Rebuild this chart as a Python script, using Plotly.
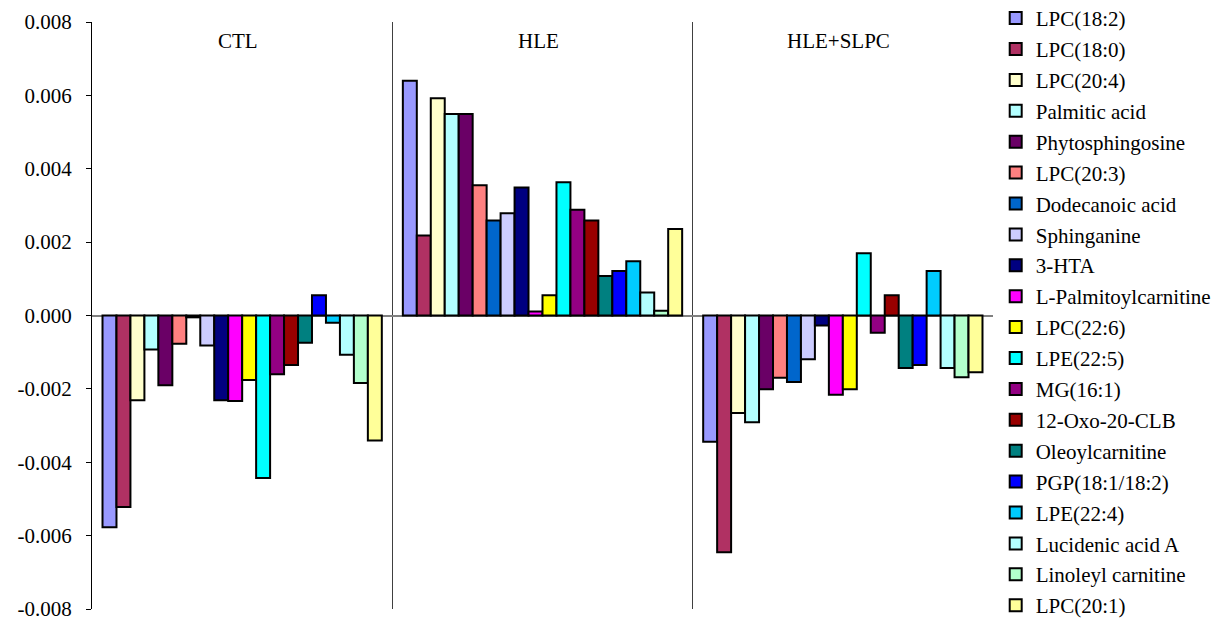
import plotly.graph_objects as go

# Groups shown along the x axis
groups = ["CTL", "HLE", "HLE+SLPC"]

# Metabolites (one bar series each)
metabolites = [
    "LPC(18:2)", "LPC(18:0)", "LPC(20:4)", "Palmitic acid", "Phytosphingosine",
    "LPC(20:3)", "Dodecanoic acid", "Sphinganine", "3-HTA", "L-Palmitoylcarnitine",
    "LPC(22:6)", "LPE(22:5)", "MG(16:1)", "12-Oxo-20-CLB", "Oleoylcarnitine",
    "PGP(18:1/18:2)", "LPE(22:4)", "Lucidenic acid A", "Linoleyl carnitine", "LPC(20:1)",
]

# Values per group, in metabolite order
ctl = [-0.00577, -0.00522, -0.00231, -0.00093, -0.00190, -0.00077, -0.00005, -0.00082,
       -0.00231, -0.00233, -0.00176, -0.00443, -0.00160, -0.00135, -0.00074, 0.00055,
       -0.00020, -0.00107, -0.00184, -0.00341]
hle = [0.00640, 0.00218, 0.00592, 0.00549, 0.00549, 0.00355, 0.00259, 0.00279,
       0.00349, 0.00011, 0.00055, 0.00363, 0.00288, 0.00259, 0.00108, 0.00121,
       0.00148, 0.00063, 0.00013, 0.00236]
hle_slpc = [-0.00344, -0.00645, -0.00266, -0.00291, -0.00201, -0.00170, -0.00181, -0.00119,
            -0.00027, -0.00216, -0.00201, 0.00170, -0.00047, 0.00055, -0.00143, -0.00135,
            0.00121, -0.00143, -0.00168, -0.00155]

colors = [
    "#9999FF", "#B03163", "#FFFFCC", "#B3FFFF", "#6A0066",
    "#FF8080", "#0066CC", "#CCCCFF", "#000080", "#FF00FF",
    "#FFFF00", "#00FFFF", "#930083", "#990000", "#008080",
    "#0000FF", "#00CCFF", "#B3FFFF", "#B3FFCC", "#FFFF99",
]

tick_vals = [0.008, 0.006, 0.004, 0.002, 0.0, -0.002, -0.004, -0.006, -0.008]
tick_labels = ["0.008", "0.006", "0.004", "0.002", "0.000", "-0.002", "-0.004", "-0.006", "-0.008"]

FONT = "Liberation Serif"

fig = go.Figure()
group_pos = list(range(len(groups)))
for i, name in enumerate(metabolites):
    fig.add_trace(go.Bar(
        x=group_pos,
        y=[ctl[i], hle[i], hle_slpc[i]],
        name=name,
        legendgroup=f"g{i}",
        marker=dict(color=colors[i], line=dict(color="#000000", width=2)),
    ))

# Group labels near the top of each panel
for gx, g in zip(group_pos, groups):
    fig.add_annotation(x=gx, y=0.968, xref="x", yref="paper", text=g, xshift=-4,
                       yanchor="middle", showarrow=False,
                       font=dict(family=FONT, size=21, color="#000000"))

fig.update_layout(
    width=1222, height=626,
    margin=dict(l=92, r=229, t=22, b=17, autoexpand=False),
    paper_bgcolor="white", plot_bgcolor="white",
    barmode="group", bargap=0.07, bargroupgap=0,
    font=dict(family=FONT, size=21, color="#000000"),
    showlegend=True,
    legend=dict(x=1.003, y=1.041, xanchor="left", yanchor="top",
                font=dict(family=FONT, size=21, color="#000000"),
                bgcolor="rgba(0,0,0,0)", traceorder="grouped",
                tracegroupgap=0.6, maxheight=1000),
    xaxis=dict(range=[-0.5, 2.5], tickmode="array", tickvals=[0.5, 1.5],
               showticklabels=False, ticks="", showgrid=True, gridcolor="#404040",
               gridwidth=1, zeroline=False, showline=False),
    yaxis=dict(range=[-0.008, 0.008], tickmode="array", tickvals=tick_vals,
               ticktext=tick_labels, ticks="outside", ticklen=5, tickcolor="#000000",
               showline=True, linecolor="#000000", linewidth=1, showgrid=False,
               zeroline=True, zerolinecolor="#808080", zerolinewidth=1.5,
               ticklabelstandoff=10, tickfont=dict(family=FONT, size=21, color="#000000")),
)

fig.write_html("out.html")
